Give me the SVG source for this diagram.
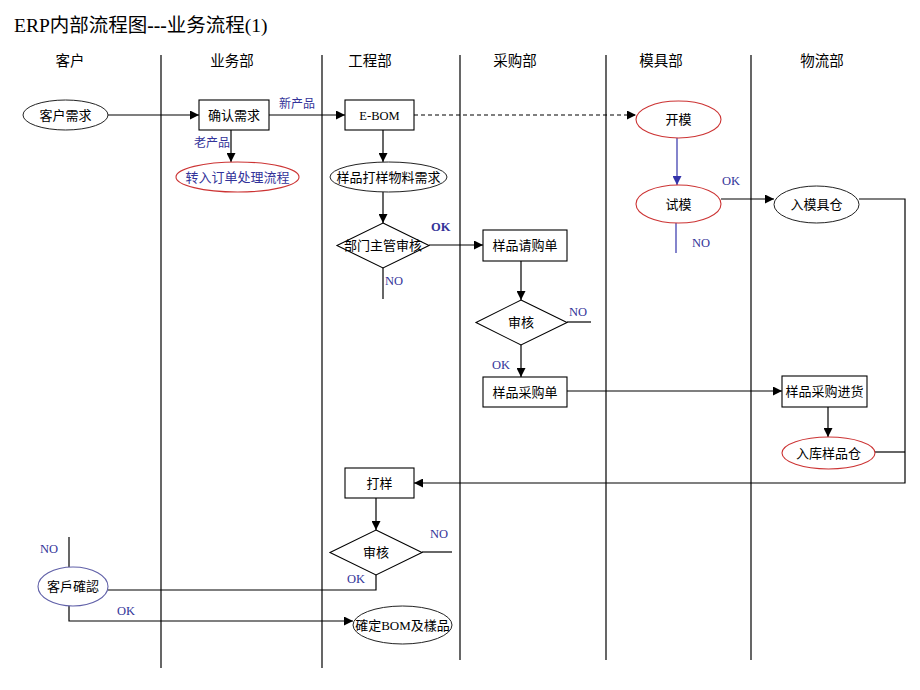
<svg xmlns="http://www.w3.org/2000/svg" width="920" height="690" viewBox="0 0 920 690">
<defs>
<marker id="ah" viewBox="0 0 10 10" refX="10" refY="5" markerWidth="9" markerHeight="9" markerUnits="userSpaceOnUse" orient="auto"><path d="M0,0 L10,5 L0,10 z" fill="#000"/></marker>
<marker id="ahb" viewBox="0 0 10 10" refX="10" refY="5" markerWidth="9" markerHeight="9" markerUnits="userSpaceOnUse" orient="auto"><path d="M0,0 L10,5 L0,10 z" fill="#3333aa"/></marker>
<style>
.lane{stroke:#000;stroke-width:1.2}
.box{fill:#fff;stroke:#000;stroke-width:1.1}
.ebk{fill:#fff;stroke:#222;stroke-width:1}
.ered{fill:#fff;stroke:#cc3333;stroke-width:1.1}
.eblu{fill:#fff;stroke:#6060a8;stroke-width:1.1}
.t{font-family:"Noto Sans CJK SC","Liberation Sans",sans-serif;font-size:13px;fill:#000;text-anchor:middle}
.ts{font-family:"Liberation Serif",serif;font-size:12.5px;fill:#000;text-anchor:middle}
.h{font-family:"Noto Sans CJK SC","Liberation Sans",sans-serif;font-size:14.5px;fill:#000;text-anchor:middle}
.lb{font-family:"Noto Sans CJK SC","Liberation Sans",sans-serif;font-size:12px;fill:#333399}
.ok{font-family:"Liberation Serif",serif;font-size:12.5px;fill:#333399}
.c{fill:none;stroke:#000;stroke-width:1.2}
.cb{fill:none;stroke:#3333aa;stroke-width:1.2}
</style>
</defs>

<text x="14" y="32" font-family="Liberation Serif, Noto Sans CJK SC, serif" font-size="19.5" fill="#000">ERP<tspan font-family="Noto Sans CJK SC, sans-serif" font-size="19.5">内部流程图</tspan><tspan font-weight="bold">---</tspan><tspan font-family="Noto Sans CJK SC, sans-serif" font-size="19.5">业务流程</tspan>(1)</text>

<g id="lanes">
<line class="lane" x1="161" y1="55" x2="161" y2="668"/>
<line class="lane" x1="322" y1="55" x2="322" y2="668"/>
<line class="lane" x1="460" y1="55" x2="460" y2="660"/>
<line class="lane" x1="606" y1="55" x2="606" y2="660"/>
<line class="lane" x1="751" y1="55" x2="751" y2="660"/>
<text class="h" x="70" y="66">客户</text>
<text class="h" x="232" y="66">业务部</text>
<text class="h" x="370" y="66">工程部</text>
<text class="h" x="515" y="66">采购部</text>
<text class="h" x="661" y="66">模具部</text>
<text class="h" x="822" y="66">物流部</text>
</g>

<g id="connectors">
<line class="c" x1="108" y1="115" x2="199" y2="115" marker-end="url(#ah)"/>
<line class="c" x1="269" y1="115" x2="345" y2="115" marker-end="url(#ah)"/>
<line class="c" x1="231" y1="130" x2="231" y2="162" marker-end="url(#ah)"/>
<line class="c" x1="383" y1="130" x2="383" y2="162" marker-end="url(#ah)"/>
<line class="c" x1="414" y1="115" x2="636" y2="115" stroke-dasharray="4,3" marker-end="url(#ah)"/>
<line class="c" x1="383" y1="192" x2="383" y2="223" marker-end="url(#ah)"/>
<line class="c" x1="429" y1="245" x2="483" y2="245" marker-end="url(#ah)"/>
<line class="c" x1="383" y1="268" x2="383" y2="299"/>
<line class="c" x1="521" y1="261" x2="521" y2="300" marker-end="url(#ah)"/>
<line class="c" x1="567" y1="322" x2="591" y2="322"/>
<line class="c" x1="521" y1="345" x2="521" y2="377" marker-end="url(#ah)"/>
<line class="c" x1="567" y1="391" x2="782" y2="391" marker-end="url(#ah)"/>
<line class="cb" x1="677" y1="138" x2="677" y2="185" marker-end="url(#ahb)"/>
<line class="cb" x1="676" y1="223" x2="676" y2="253"/>
<line class="c" x1="721" y1="199" x2="774" y2="199" marker-end="url(#ah)"/>
<polyline class="c" points="859,199 905,199 905,483 414,483" marker-end="url(#ah)"/>
<line class="c" x1="828" y1="407" x2="828" y2="437" marker-end="url(#ah)"/>
<line class="c" x1="875" y1="452" x2="905" y2="452"/>
<line class="c" x1="376" y1="498" x2="376" y2="530" marker-end="url(#ah)"/>
<line class="c" x1="422" y1="552" x2="452" y2="552"/>
<polyline class="c" points="376,575 376,590 108,590"/>
<line class="c" x1="69" y1="537" x2="69" y2="567"/>
<polyline class="c" points="69,606 69,621 353,621" marker-end="url(#ah)"/>
<text class="lb" x="279" y="108">新产品</text>
<text class="lb" x="194" y="147">老产品</text>
<text class="ok" x="431" y="231" font-weight="bold">OK</text>
<text class="ok" x="385" y="285">NO</text>
<text class="ok" x="569" y="316">NO</text>
<text class="ok" x="492" y="369">OK</text>
<text class="ok" x="722" y="185">OK</text>
<text class="ok" x="692" y="247">NO</text>
<text class="ok" x="430" y="538">NO</text>
<text class="ok" x="347" y="583">OK</text>
<text class="ok" x="40" y="553">NO</text>
<text class="ok" x="117" y="615">OK</text>
</g>

<g id="n_kehuxuqiu"><ellipse class="ebk" cx="65.5" cy="115" rx="42.5" ry="15"/><text class="t" x="65.5" y="119.5">客户需求</text></g>
<g id="n_queren"><rect class="box" x="199" y="100" width="70" height="30"/><text class="t" x="234" y="119.5">确认需求</text></g>
<g id="n_ebom"><rect class="box" x="345" y="100" width="69" height="30"/><text class="ts" x="379.5" y="119.5">E-BOM</text></g>
<g id="n_zhuanru"><ellipse class="ered" cx="237.5" cy="177" rx="61.5" ry="15"/><text class="t" x="237.5" y="181.5" style="fill:#333399">转入订单处理流程</text></g>
<g id="n_yangpin"><ellipse class="ebk" cx="388.5" cy="177" rx="58.5" ry="15"/><text class="t" x="388.5" y="181.5">样品打样物料需求</text></g>
<g id="n_bumen"><polygon class="box" points="383,223 429,245.5 383,268 337,245.5"/><text class="t" x="383" y="250">部门主管审核</text></g>
<g id="n_qinggou"><rect class="box" x="483" y="230" width="84" height="31"/><text class="t" x="525" y="250">样品请购单</text></g>
<g id="n_shenhe1"><polygon class="box" points="521,300 567,322.5 521,345 476,322.5"/><text class="t" x="521" y="327">审核</text></g>
<g id="n_caigou"><rect class="box" x="483" y="377" width="84" height="30"/><text class="t" x="525" y="396.5">样品采购单</text></g>
<g id="n_kaimo"><ellipse class="ered" cx="678.5" cy="119.5" rx="42.5" ry="18.5"/><text class="t" x="678.5" y="124">开模</text></g>
<g id="n_shimo"><ellipse class="ered" cx="678.5" cy="204" rx="42.5" ry="19"/><text class="t" x="678.5" y="208.5">试模</text></g>
<g id="n_rumoju"><ellipse class="ebk" cx="816.5" cy="204.5" rx="42.5" ry="18.5"/><text class="t" x="816.5" y="209">入模具仓</text></g>
<g id="n_jinhuo"><rect class="box" x="782" y="376" width="85" height="31"/><text class="t" x="824.5" y="396">样品采购进货</text></g>
<g id="n_ruku"><ellipse class="ered" cx="828.5" cy="453" rx="46.5" ry="16"/><text class="t" x="828.5" y="457.5">入库样品仓</text></g>
<g id="n_dayang"><rect class="box" x="345" y="468" width="69" height="30"/><text class="t" x="379.5" y="487.5">打样</text></g>
<g id="n_shenhe2"><polygon class="box" points="376,530 422,552.5 376,575 330,552.5"/><text class="t" x="376" y="557">审核</text></g>
<g id="n_kehuqueren"><ellipse class="eblu" cx="73" cy="586.5" rx="35" ry="19.5"/><text class="t" x="73" y="591">客戶確認</text></g>
<g id="n_queding"><ellipse class="ebk" cx="402.5" cy="625" rx="49.5" ry="19"/><text class="t" x="402.5" y="629.5">確定<tspan style="font-family:'Liberation Serif',serif">BOM</tspan>及樣品</text></g>
</svg>
